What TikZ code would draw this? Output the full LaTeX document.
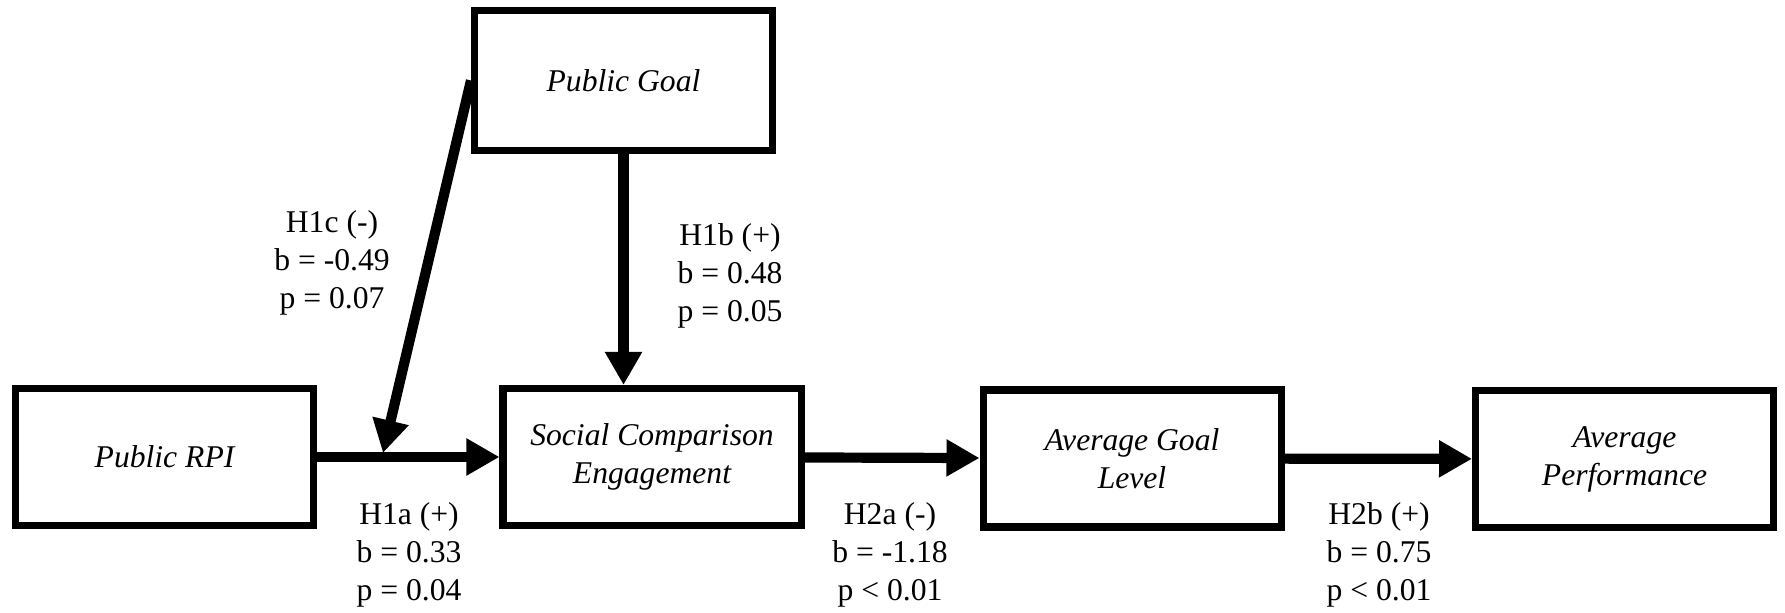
\documentclass[tikz,border=0pt]{standalone}
\usepackage{fontspec}
\setmainfont{LiberationSerif}[
  Extension=.ttf,
  UprightFont=*-Regular,
  ItalicFont=*-Italic,
  BoldFont=*-Bold]
\usetikzlibrary{arrows.meta}

\begin{document}
\begin{tikzpicture}[
  var/.style={draw, line width=2pt, minimum width=2.98cm, minimum height=1.37cm,
              align=center, font=\fontsize{9}{10.8}\selectfont\itshape},
  link/.style={line width=2.9pt, -{Triangle[length=0.33cm,width=0.35cm]}},
  est/.style={align=center, font=\fontsize{9}{10.8}\selectfont}
]
\useasboundingbox (0,0) rectangle (17.85,-6.13);

\node[var, minimum height=1.40cm] (goal) at (6.235,-0.805) {Public Goal};
\node[var] (rpi) at (1.645,-4.57) {Public RPI};
\node[var] (sce) at (6.52,-4.57) {Social Comparison\\Engagement};
\node[var] (agl) at (11.32,-4.585) {Average Goal\\Level};
\node[var] (perf) at (16.245,-4.59) {Average\\Performance};

\coordinate (mod) at (3.83,-4.53);

\draw[link] (rpi) -- (sce);
\draw[link] (sce) -- (agl);
\draw[link] (agl) -- (perf);
\draw[link] (goal) -- (goal |- sce.north);
\draw[link] (goal.west) -- (mod);

\node[est] (h1a) at (4.09,-5.55) {H1a (+)\\b = 0.33\\p = 0.04};
\node[est] (h1b) at (7.30,-2.76) {H1b (+)\\b = 0.48\\p = 0.05};
\node[est] (h1c) at (3.32,-2.63) {H1c (-)\\b = -0.49\\p = 0.07};
\node[est] (h2a) at (8.90,-5.55) {H2a (-)\\b = -1.18\\p < 0.01};
\node[est] (h2b) at (13.79,-5.55) {H2b (+)\\b = 0.75\\p < 0.01};

\end{tikzpicture}
\end{document}
